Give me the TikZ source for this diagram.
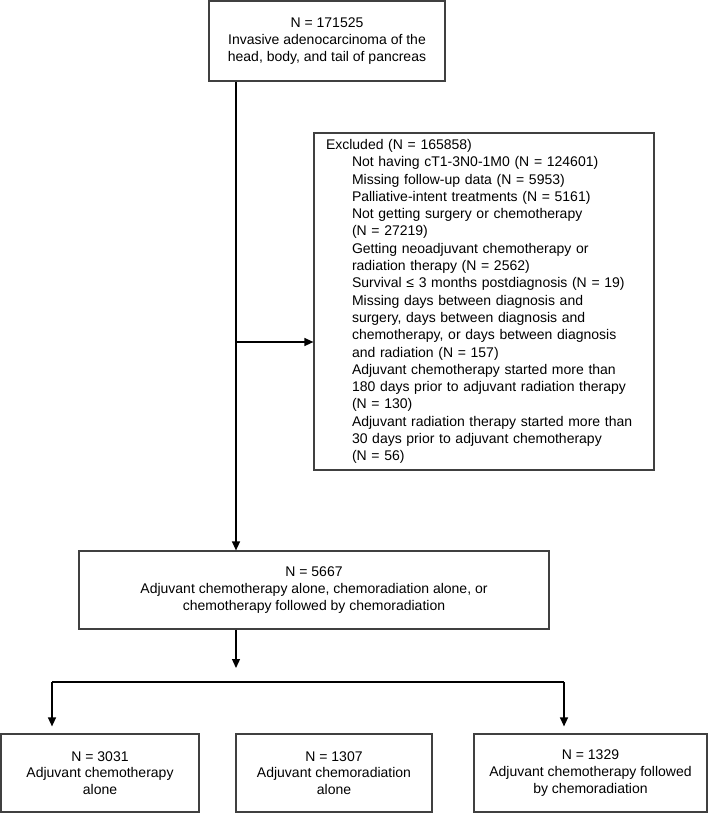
\documentclass[tikz,border=0pt]{standalone}
\usepackage{fontspec}
\setmainfont{Liberation Sans}
\usetikzlibrary{arrows.meta,positioning}
\tikzstyle{box} = [draw=black!75,line width=1.2pt,align=center,inner sep=4pt,font=\fontsize{14}{16.7}\selectfont]
\tikzstyle{edge} = [draw,line width=1.3pt,-{Triangle[length=9pt,width=8pt]}]
\newcommand{\ind}{\hspace*{26pt}}

\begin{document}
\begin{tikzpicture}[x=1pt,y=-1pt]
   \useasboundingbox (0,0) rectangle (709,813);

   \node[box,minimum width=236,minimum height=80] (top) at (327,41)
     {N = 171525\\Invasive adenocarcinoma of the\\head, body, and tail of pancreas};
   \node[box,minimum width=340,minimum height=337,text width=316,inner xsep=12pt,align=left,
         font=\fontsize{14}{17.3}\selectfont] (excl) at (484,301.5)
     {Excluded (N = 165858)\\
      \ind Not having cT1-3N0-1M0 (N = 124601)\\
      \ind Missing follow-up data (N = 5953)\\
      \ind Palliative-intent treatments (N = 5161)\\
      \ind Not getting surgery or chemotherapy\\
      \ind (N = 27219)\\
      \ind Getting neoadjuvant chemotherapy or\\
      \ind radiation therapy (N = 2562)\\
      \ind Survival ≤ 3 months postdiagnosis (N = 19)\\
      \ind Missing days between diagnosis and\\
      \ind surgery, days between diagnosis and\\
      \ind chemotherapy, or days between diagnosis\\
      \ind and radiation (N = 157)\\
      \ind Adjuvant chemotherapy started more than\\
      \ind 180 days prior to adjuvant radiation therapy\\
      \ind (N = 130)\\
      \ind Adjuvant radiation therapy started more than\\
      \ind 30 days prior to adjuvant chemotherapy\\
      \ind (N = 56)};
   \node[box,minimum width=470,minimum height=78] (mid) at (314,590)
     {N = 5667\\Adjuvant chemotherapy alone, chemoradiation alone, or\\chemotherapy followed by chemoradiation};
   \node[box,minimum width=198,minimum height=78] (chemo) at (100,773)
     {N = 3031\\Adjuvant chemotherapy\\alone};
   \node[box,minimum width=196,minimum height=78] (crt) at (334,773)
     {N = 1307\\Adjuvant chemoradiation\\alone};
   \node[box,minimum width=233,minimum height=78] (seq) at (590.5,773)
     {N = 1329\\Adjuvant chemotherapy followed\\by chemoradiation};

   % trunk and exclusion
   \coordinate (split) at (236,342);
   \draw[line width=1.3pt] (top.south -| split) -- (split);
   \path[edge] (split) -- (excl.west |- split);
   \path[edge] (split) -- (mid.north -| split);

   % branches
   \coordinate (down) at (236,668);
   \coordinate (lft) at (52,682);
   \coordinate (rgt) at (564,682);
   \path[edge] (mid.south -| down) -- (down);
   \draw[line width=1.3pt] (lft) -- (rgt);
   \path[edge,shorten >=7pt] (lft) -- (chemo.north -| lft);
   \path[edge,shorten >=7pt] (rgt) -- (seq.north -| rgt);
\end{tikzpicture}
\end{document}
